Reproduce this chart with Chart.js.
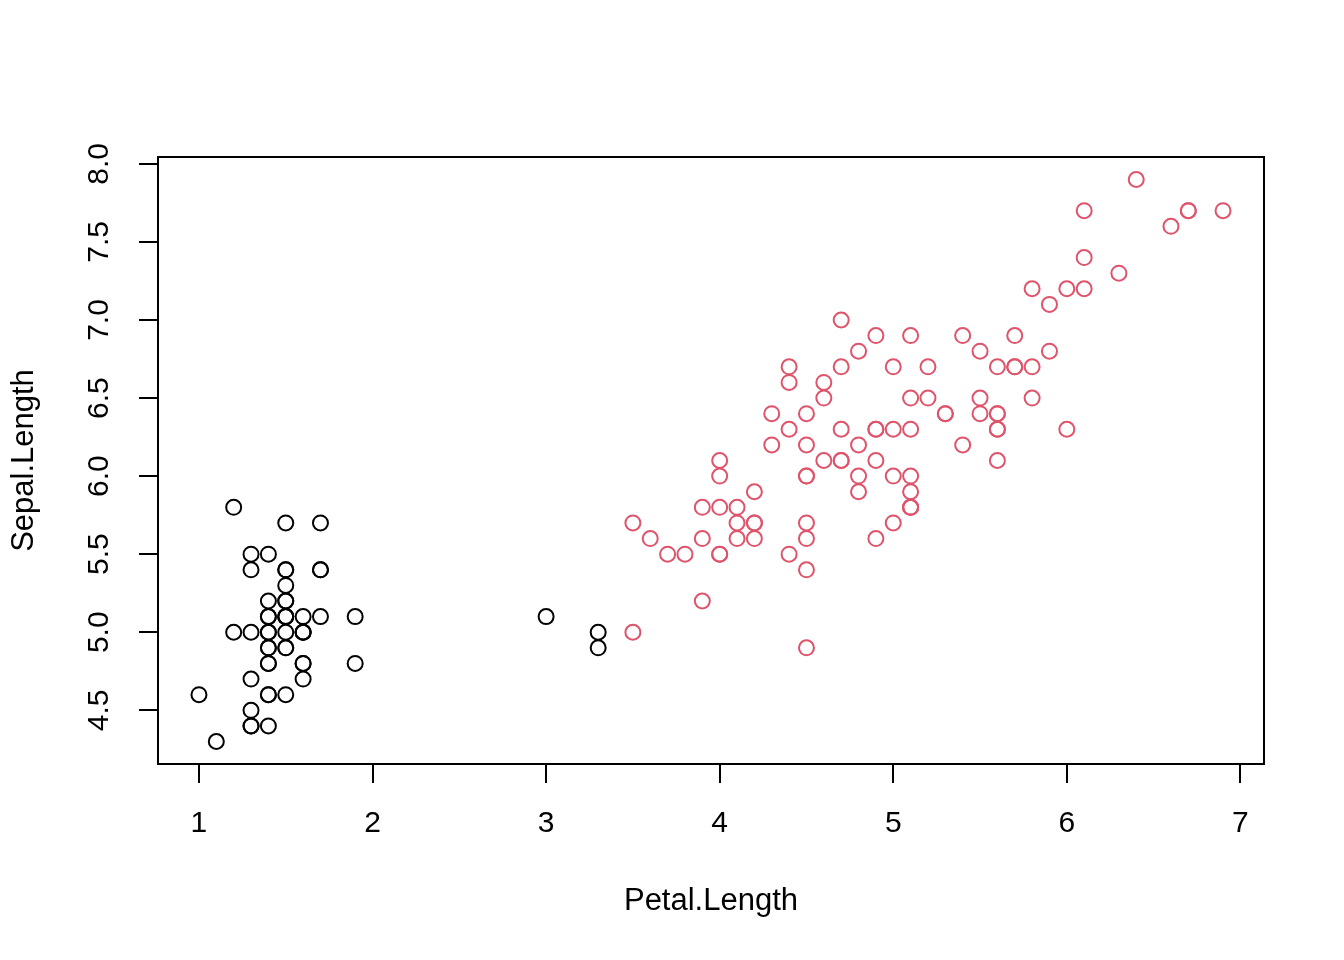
<!DOCTYPE html>
<html>
<head>
<meta charset="utf-8">
<script src="https://cdn.jsdelivr.net/npm/chart.js@4"></script>
<style>
    body { margin: 0; background: #ffffff; }
    #chart { display: block; }
</style>
</head>
<body>
<canvas id="chart" width="1344" height="960"></canvas>
<script>
// cluster 1 (black): petal length / sepal length
const cluster1Petal = [
    1.4, 1.4, 1.3, 1.5, 1.4, 1.7, 1.4, 1.5, 1.4, 1.5, 1.5, 1.6, 1.4, 1.1, 1.2, 1.5, 1.3,
    1.4, 1.7, 1.5, 1.7, 1.5, 1.0, 1.7, 1.9, 1.6, 1.6, 1.5, 1.4, 1.6, 1.6, 1.5, 1.5, 1.4,
    1.5, 1.2, 1.3, 1.4, 1.3, 1.5, 1.3, 1.3, 1.3, 1.6, 1.9, 1.4, 1.6, 1.4, 1.5, 1.4,
    3.3, 3.3, 3.0
];
const cluster1Sepal = [
    5.1, 4.9, 4.7, 4.6, 5.0, 5.4, 4.6, 5.0, 4.4, 4.9, 5.4, 4.8, 4.8, 4.3, 5.8, 5.7, 5.4,
    5.1, 5.7, 5.1, 5.4, 5.1, 4.6, 5.1, 4.8, 5.0, 5.0, 5.2, 5.2, 4.7, 4.8, 5.4, 5.2, 5.5,
    4.9, 5.0, 5.5, 4.9, 4.4, 5.1, 5.0, 4.5, 4.4, 5.0, 5.1, 4.8, 5.1, 4.6, 5.3, 5.0,
    4.9, 5.0, 5.1
];

// cluster 2 (red)
const cluster2Petal = [
    4.7, 4.5, 4.9, 4.0, 4.6, 4.5, 4.7, 4.6, 3.9, 3.5, 4.2, 4.0, 4.7, 3.6, 4.4, 4.5,
    4.1, 4.5, 3.9, 4.8, 4.0, 4.9, 4.7, 4.3, 4.4, 4.8, 5.0, 4.5, 3.5, 3.8, 3.7, 3.9,
    5.1, 4.5, 4.5, 4.7, 4.4, 4.1, 4.0, 4.4, 4.6, 4.0, 4.2, 4.2, 4.2, 4.3, 4.1,
    6.0, 5.1, 5.9, 5.6, 5.8, 6.6, 4.5, 6.3, 5.8, 6.1, 5.1, 5.3, 5.5, 5.0, 5.1, 5.3,
    5.5, 6.7, 6.9, 5.0, 5.7, 4.9, 6.7, 4.9, 5.7, 6.0, 4.8, 4.9, 5.6, 5.8, 6.1, 6.4,
    5.6, 5.1, 5.6, 6.1, 5.6, 5.5, 4.8, 5.4, 5.6, 5.1, 5.1, 5.9, 5.7, 5.2, 5.0, 5.2,
    5.4, 5.1
];
const cluster2Sepal = [
    7.0, 6.4, 6.9, 5.5, 6.5, 5.7, 6.3, 6.6, 5.2, 5.0, 5.9, 6.0, 6.1, 5.6, 6.7, 5.6,
    5.8, 6.2, 5.6, 5.9, 6.1, 6.3, 6.1, 6.4, 6.6, 6.8, 6.7, 6.0, 5.7, 5.5, 5.5, 5.8,
    6.0, 5.4, 6.0, 6.7, 6.3, 5.6, 5.5, 5.5, 6.1, 5.8, 5.6, 5.7, 5.7, 6.2, 5.7,
    6.3, 5.8, 7.1, 6.3, 6.5, 7.6, 4.9, 7.3, 6.7, 7.2, 6.5, 6.4, 6.8, 5.7, 5.8, 6.4,
    6.5, 7.7, 7.7, 6.0, 6.9, 5.6, 7.7, 6.3, 6.7, 7.2, 6.2, 6.1, 6.4, 7.2, 7.4, 7.9,
    6.4, 6.3, 6.1, 7.7, 6.3, 6.4, 6.0, 6.9, 6.7, 6.9, 5.8, 6.8, 6.7, 6.7, 6.3, 6.5,
    6.2, 5.9
];

const xTicks = [1, 2, 3, 4, 5, 6, 7];
const yTicks = [4.5, 5.0, 5.5, 6.0, 6.5, 7.0, 7.5, 8.0];

const xTitle = 'Petal.Length';
const yTitle = 'Sepal.Length';

// ============================================
// Helpers
// ============================================

function toPoints(xs, ys) {
    const pts = [];
    for (let i = 0; i < xs.length; i++) {
        pts.push({ x: xs[i], y: ys[i] });
    }
    return pts;
}

// R style axis range: data range extended by 4% on each side
function rRange(a, b) {
    const all = a.concat(b);
    const lo = Math.min(...all);
    const hi = Math.max(...all);
    const d = (hi - lo) * 0.04;
    return [lo - d, hi + d];
}

const xRange = rRange(cluster1Petal, cluster2Petal);
const yRange = rRange(cluster1Sepal, cluster2Sepal);

const FAMILY = '"Liberation Sans", Arial, Helvetica, sans-serif';
const TICK_FONT = { family: FAMILY, size: 30, lineHeight: 1 };
const TITLE_FONT = { family: FAMILY, size: 31, lineHeight: 1 };

// box around plot region
const boxPlugin = {
    id: 'box',
    afterDraw(chart) {
        const a = chart.chartArea;
        const ctx = chart.ctx;
        ctx.save();
        ctx.strokeStyle = '#000000';
        ctx.lineWidth = 2;
        ctx.strokeRect(a.left, a.top, a.right - a.left, a.bottom - a.top);
        ctx.restore();
    }
};

const whiteBg = {
    id: 'whiteBg',
    beforeDraw(chart) {
        const ctx = chart.ctx;
        ctx.save();
        ctx.fillStyle = '#ffffff';
        ctx.fillRect(0, 0, chart.width, chart.height);
        ctx.restore();
    }
};

new Chart(document.getElementById('chart'), {
    type: 'scatter',
    data: {
        datasets: [
            {
                data: toPoints(cluster1Petal, cluster1Sepal),
                borderColor: '#000000',
                backgroundColor: 'rgba(0,0,0,0)',
                pointRadius: 7.5,
                pointBorderWidth: 2,
                pointStyle: 'circle'
            },
            {
                data: toPoints(cluster2Petal, cluster2Sepal),
                borderColor: '#DF536B',
                backgroundColor: 'rgba(0,0,0,0)',
                pointRadius: 7.5,
                pointBorderWidth: 2,
                pointStyle: 'circle'
            }
        ]
    },
    options: {
        responsive: false,
        animation: false,
        devicePixelRatio: 1,
        layout: { padding: { top: 157, right: 80, left: 0, bottom: 0 } },
        plugins: {
            legend: { display: false },
            tooltip: { enabled: false }
        },
        scales: {
            x: {
                type: 'linear',
                min: xRange[0],
                max: xRange[1],
                afterBuildTicks: function(scale) {
                    scale.ticks = xTicks.map(v => ({ value: v }));
                },
                afterFit: function(scale) { scale.height = 196; },
                border: { display: false },
                grid: {
                    drawOnChartArea: false,
                    drawTicks: true,
                    tickLength: 19,
                    color: '#000000',
                    lineWidth: 2
                },
                ticks: {
                    color: '#000000',
                    font: TICK_FONT,
                    padding: 26,
                    maxRotation: 0,
                    autoSkip: false,
                    callback: v => String(v)
                },
                title: {
                    display: true,
                    text: xTitle,
                    color: '#000000',
                    font: TITLE_FONT,
                    padding: { top: 0, bottom: 43 }
                }
            },
            y: {
                type: 'linear',
                min: yRange[0],
                max: yRange[1],
                afterBuildTicks: function(scale) {
                    scale.ticks = yTicks.map(v => ({ value: v }));
                },
                afterFit: function(scale) { scale.width = 158; },
                border: { display: false },
                grid: {
                    drawOnChartArea: false,
                    drawTicks: true,
                    tickLength: 19,
                    color: '#000000',
                    lineWidth: 2
                },
                ticks: {
                    color: '#000000',
                    font: TICK_FONT,
                    padding: 18,
                    minRotation: 90,
                    maxRotation: 90,
                    crossAlign: 'center',
                    autoSkip: false,
                    callback: v => v.toFixed(1)
                },
                title: {
                    display: true,
                    text: yTitle,
                    color: '#000000',
                    font: TITLE_FONT,
                    padding: { top: 9, bottom: 0 }
                }
            }
        }
    },
    plugins: [whiteBg, boxPlugin]
});
</script>
</body>
</html>
